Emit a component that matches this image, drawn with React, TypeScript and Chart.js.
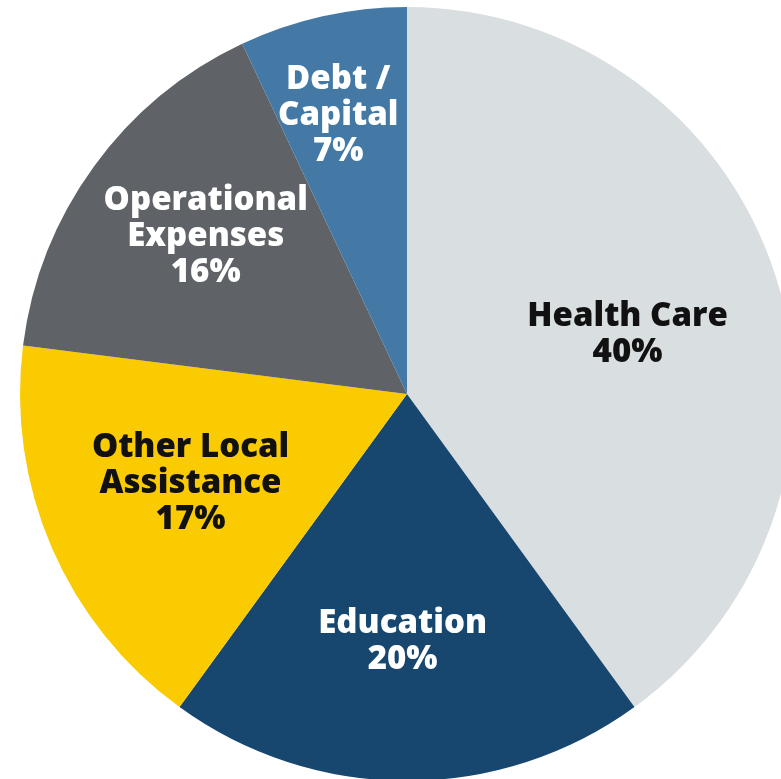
import React, { useEffect, useRef } from "react";
import { Chart, registerables } from "chart.js";

Chart.register(...registerables);

const categories: string[][] = [
  ["Health Care"],
  ["Education"],
  ["Other Local", "Assistance"],
  ["Operational", "Expenses"],
  ["Debt /", "Capital"],
];
const shares: number[] = [40, 20, 17, 16, 7];
const sliceColors: string[] = ["#d9dee0", "#17476f", "#f9cb00", "#5f6266", "#4479a6"];
const labelColors: string[] = ["#111111", "#ffffff", "#111111", "#ffffff", "#ffffff"];
// label placement: fraction of radius and angular shift (deg) from slice mid
const labelRadiusFrac: number[] = [0.59, 0.64, 0.605, 0.66, 0.74];
const labelAngleShift: number[] = [3, 1, 1, 2, -1.3];

const FONT = "800 33px 'Open Sans', Lato, sans-serif";
const LINE_H = 36;

const labelPlugin = {
  id: "sliceLabels",
  afterDatasetsDraw(chart: any) {
    const ctx = chart.ctx as CanvasRenderingContext2D;
    const meta = chart.getDatasetMeta(0);
    ctx.save();
    ctx.font = FONT;
    ctx.textAlign = "center";
    ctx.textBaseline = "middle";
    meta.data.forEach((arc: any, i: number) => {
      const { x, y, startAngle, endAngle, outerRadius } = arc.getProps(
        ["x", "y", "startAngle", "endAngle", "outerRadius"],
        true
      );
      const mid = (startAngle + endAngle) / 2 + (labelAngleShift[i] * Math.PI) / 180;
      const r = outerRadius * labelRadiusFrac[i];
      const cx = x + Math.cos(mid) * r;
      const cy = y + Math.sin(mid) * r;
      const lines = [...categories[i], `${shares[i]}%`];
      const top = cy - ((lines.length - 1) * LINE_H) / 2;
      ctx.fillStyle = labelColors[i];
      lines.forEach((ln, k) => ctx.fillText(ln, cx, top + k * LINE_H));
    });
    ctx.restore();
  },
};

export default function App() {
  const ref = useRef<HTMLCanvasElement | null>(null);
  useEffect(() => {
    if (!ref.current) return;
    const chart = new Chart(ref.current, {
      type: "pie",
      data: {
        labels: categories.map((c) => c.join(" ")),
        datasets: [
          {
            data: shares,
            backgroundColor: sliceColors,
            borderWidth: 0,
          },
        ],
      },
      options: {
        responsive: false,
        animation: false,
        devicePixelRatio: 1,
        layout: { padding: 7 },
        plugins: {
          legend: { display: false },
          tooltip: { enabled: false },
        },
      },
      plugins: [labelPlugin],
    });
    return () => chart.destroy();
  }, []);
  return (
    <div
      style={{
        position: "fixed",
        left: 0,
        top: 0,
        width: 781,
        height: 779,
        overflow: "hidden",
        background: "#ffffff",
      }}
    >
      <canvas ref={ref} width={814} height={788} style={{ display: "block", width: 814, height: 788 }} />
    </div>
  );
}
